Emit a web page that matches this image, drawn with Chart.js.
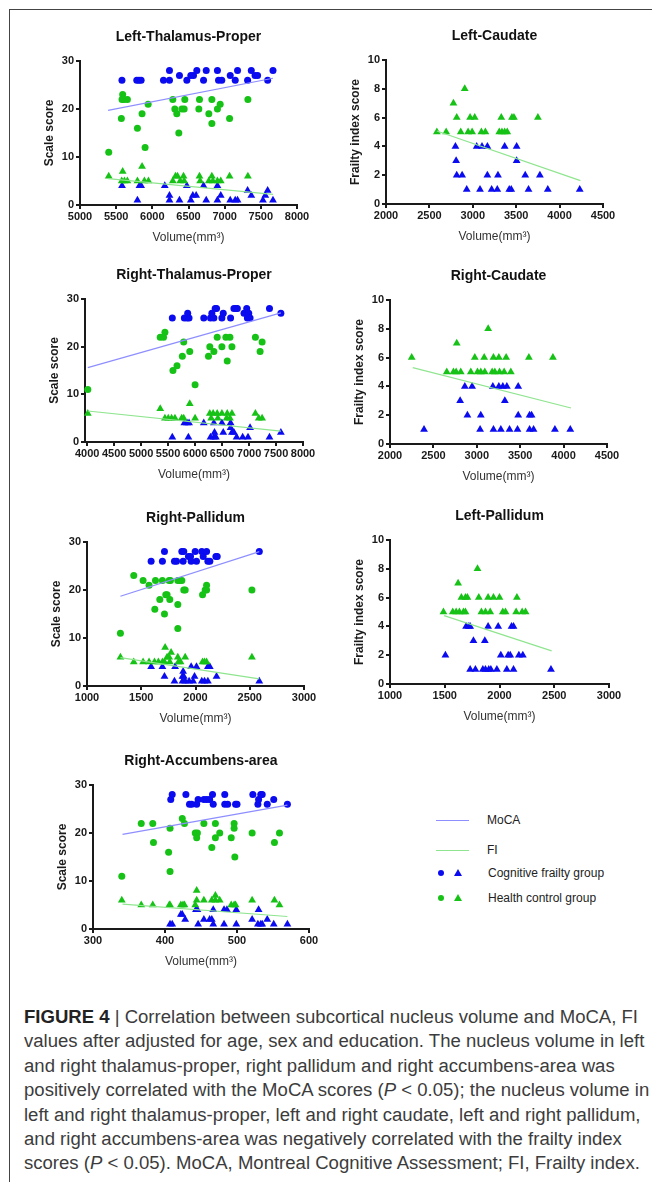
<!DOCTYPE html>
<html>
<head>
<meta charset="utf-8">
<script src="https://cdn.jsdelivr.net/npm/chart.js@4.4.0/dist/chart.umd.min.js"></script>
<style>
body { margin: 0; background: #fff; }
#fig { position: relative; width: 652px; height: 1182px; overflow: hidden; font-family: "Liberation Sans", Arial, sans-serif; }
.frame-top { position: absolute; left: 9px; top: 9px; width: 643px; height: 1px; background: #444; }
.frame-left { position: absolute; left: 9px; top: 9px; width: 1px; height: 1173px; background: #444; }
canvas { position: absolute; }
.lg-line { position: absolute; height: 1px; width: 33px; }
.lg-text { position: absolute; font-size: 12px; color: #222; line-height: 16px; white-space: nowrap; }
.dot { position: absolute; width: 6px; height: 6px; border-radius: 50%; }
.tri { position: absolute; width: 0; height: 0; border-left: 4px solid transparent; border-right: 4px solid transparent; border-bottom: 7px solid; }
#caption { position: absolute; left: 24px; top: 1005px; font-size: 18px; line-height: 24.4px; color: #3c3c3c; transform-origin: 0 0; white-space: nowrap; }
#caption b { color: #222; }
</style>
</head>
<body>
<div id="fig">
  <div class="frame-top"></div>
  <div class="frame-left"></div>

  <div class="lg-line" style="left:436px; top:820px; background:#8e8eff;"></div>
  <div class="lg-text" style="left:487px; top:812px;">MoCA</div>
  <div class="lg-line" style="left:436px; top:850px; background:#8fe58f;"></div>
  <div class="lg-text" style="left:487px; top:842px;">FI</div>
  <div class="dot" style="left:438px; top:870px; background:#0b0bf0;"></div>
  <div class="tri" style="left:454px; top:869px; border-bottom-color:#0b0bf0;"></div>
  <div class="lg-text" style="left:488px; top:865px;">Cognitive frailty group</div>
  <div class="dot" style="left:438px; top:895px; background:#17c217;"></div>
  <div class="tri" style="left:454px; top:894px; border-bottom-color:#17c217;"></div>
  <div class="lg-text" style="left:488px; top:890px;">Health control group</div>

  <div id="caption">
    <div id="cap1"><b>FIGURE 4</b> | Correlation between subcortical nucleus volume and MoCA, FI</div>
    <div>values after adjusted for age, sex and education. The nucleus volume in left</div>
    <div>and right thalamus-proper, right pallidum and right accumbens-area was</div>
    <div>positively correlated with the MoCA scores (<i>P</i> &lt; 0.05); the nucleus volume in</div>
    <div>left and right thalamus-proper, left and right caudate, left and right pallidum,</div>
    <div>and right accumbens-area was negatively correlated with the frailty index</div>
    <div>scores (<i>P</i> &lt; 0.05). MoCA, Montreal Cognitive Assessment; FI, Frailty index.</div>
  </div>
</div>

<script>
// Left-Thalamus-Proper
const ltp_cfMoca = [[5580,26],[5785,26],[5815,26],[5845,26],[6154,26],[6237,26],[6237,28],[6375,27],[6477,26],[6532,27],[6569,27],[6615,28],[6708,26],[6745,28],[6900,28],[6915,26],[6960,26],[7077,27],[7146,26],[7178,28],[7317,26],[7368,28],[7420,27],[7455,27],[7594,26],[7668,28]];
const ltp_hcMoca = [[5397,11],[5572,18],[5590,23],[5581,22],[5609,22],[5655,22],[5794,16],[5858,19],[5900,12],[5942,21],[6283,22],[6311,20],[6338,19],[6366,15],[6408,20],[6440,20],[6449,22],[6652,22],[6643,20],[6781,19],[6823,22],[6823,17],[6900,20],[6938,21],[7068,18],[7321,22]];
const ltp_hcFi = [[5397,6],[5590,7],[5577,5],[5614,5],[5655,5],[5794,5],[5858,8],[5890,5],[5946,5],[6283,5],[6320,6],[6348,6],[6385,5],[6431,6],[6440,5],[6652,6],[6661,5],[6781,5],[6823,6],[6837,5],[6900,5],[6946,5],[7068,6],[7321,6]];
const ltp_cfFi = [[5581,4],[5794,1],[5822,4],[5845,4],[6172,4],[6237,2],[6237,1],[6375,1],[6477,4],[6532,1],[6560,2],[6606,2],[6708,4],[6745,1],[6900,4],[6900,1],[6946,2],[7077,1],[7146,1],[7178,1],[7317,3],[7368,2],[7529,1],[7562,2],[7594,3],[7668,1]];
const ltp_mocaFit = [[5388,19.7],[7668,26.4]];
const ltp_fiFit = [[5388,5.5],[7668,2.2]];

// Left-Caudate
const lca_hcFi = [[2586,5],[2693,5],[2777,7],[2815,6],[2907,8],[2861,5],[2946,5],[2992,5],[2969,6],[3022,6],[3099,5],[3145,5],[3305,5],[3336,5],[3367,5],[3397,5],[3328,6],[3451,6],[3474,6],[3750,6]];
const lca_cfFi = [[2800,4],[2808,3],[2815,2],[2877,2],[2930,1],[3045,4],[3106,4],[3168,4],[3083,1],[3168,2],[3217,1],[3282,1],[3290,2],[3420,1],[3443,1],[3367,4],[3505,4],[3505,3],[3604,2],[3642,1],[3773,2],[3864,1],[4232,1]];
const lca_fiFit = [[2586,5.07],[4240,1.62]];

// Right-Thalamus-Proper
const rtp_cfMoca = [[5578,26],[5801,26],[5851,26],[5888,26],[5863,27],[6161,26],[6286,26],[6348,26],[6311,27],[6373,28],[6398,28],[6497,26],[6522,27],[6658,26],[6720,28],[6758,28],[6783,28],[6907,27],[6957,28],[6994,27],[6969,26],[7019,26],[7379,28],[7590,27]];
const rtp_hcMoca = [[4012,11],[5354,22],[5416,22],[5441,23],[5590,15],[5665,16],[5764,18],[5789,21],[5901,19],[6000,12],[6248,18],[6273,20],[6348,19],[6410,22],[6497,20],[6596,17],[6571,22],[6646,22],[6683,20],[7118,22],[7205,19],[7242,21]];
const rtp_hcFi = [[4012,6],[5354,7],[5441,5],[5503,5],[5565,5],[5627,5],[5752,5],[5789,5],[5901,8],[6000,5],[6273,6],[6335,6],[6410,6],[6298,5],[6422,5],[6497,6],[6584,5],[6646,5],[6596,6],[6683,6],[7118,6],[7180,5],[7242,5]];
const rtp_cfFi = [[5578,1],[5801,4],[5851,4],[5888,4],[5876,1],[6161,4],[6286,1],[6348,1],[6385,1],[6360,2],[6348,4],[6497,4],[6522,2],[6658,4],[6658,3],[6683,2],[6720,2],[6770,1],[6882,1],[6981,1],[7019,3],[7379,1],[7590,2]];
const rtp_mocaFit = [[4012,15.6],[7590,27.1]];
const rtp_fiFit = [[4012,6.5],[7590,2.3]];

// Right-Caudate
const rca_hcFi = [[2250,6],[2654,5],[2731,5],[2762,5],[2769,7],[2815,5],[2931,5],[3008,5],[3046,5],[3092,5],[2977,6],[3085,6],[3131,8],[3192,6],[3254,6],[3177,5],[3208,5],[3262,5],[3315,5],[3338,6],[3392,5],[3600,6],[3877,6]];
const rca_cfFi = [[2392,1],[2808,3],[2862,4],[2946,4],[2892,2],[3046,2],[3038,1],[3185,4],[3254,4],[3300,4],[3346,4],[3192,1],[3277,1],[3323,3],[3377,1],[3469,1],[3477,2],[3477,4],[3608,2],[3631,2],[3608,1],[3654,1],[3900,1],[4077,1]];
const rca_fiFit = [[2262,5.3],[4085,2.5]];

// Right-Pallidum
const rpa_cfMoca = [[1591,26],[1714,28],[1695,26],[1806,26],[1825,26],[1874,28],[1892,28],[1886,26],[1935,27],[1954,27],[1960,26],[1997,28],[2009,26],[2058,28],[2071,27],[2102,28],[2114,26],[2132,26],[2188,27],[2200,27],[2588,28]];
const rpa_hcMoca = [[1308,11],[1431,23],[1517,22],[1572,21],[1625,16],[1631,22],[1671,18],[1695,22],[1714,15],[1726,19],[1738,19],[1757,22],[1769,22],[1763,18],[1837,17],[1837,22],[1855,22],[1874,22],[1837,12],[1892,20],[1905,20],[2065,19],[2089,20],[2102,20],[2102,21],[2520,20]];
const rpa_hcFi = [[1308,6],[1431,5],[1517,5],[1572,5],[1622,5],[1658,5],[1695,5],[1714,5],[1720,8],[1738,6],[1757,6],[1775,7],[1763,5],[1837,6],[1843,5],[1862,5],[1905,6],[2065,5],[2083,5],[2102,5],[2520,6]];
const rpa_cfFi = [[1591,4],[1695,4],[1714,2],[1806,1],[1812,4],[1880,2],[1886,3],[1892,2],[1880,1],[1905,1],[1960,4],[1941,1],[1978,1],[1991,2],[2009,4],[2058,1],[2083,1],[2114,4],[2132,4],[2114,1],[2194,2],[2588,1]];
const rpa_mocaFit = [[1308,18.7],[2588,28]];
const rpa_fiFit = [[1308,5.9],[2588,1.5]];

// Left-Pallidum
const lpa_hcFi = [[1488,5],[1573,5],[1604,5],[1634,5],[1671,5],[1689,5],[1622,7],[1652,6],[1689,6],[1707,6],[1799,8],[1811,6],[1835,5],[1872,5],[1915,5],[1896,6],[1945,6],[2000,6],[2030,5],[2055,5],[2159,6],[2152,5],[2207,5],[2238,5]];
const lpa_cfFi = [[1506,2],[1695,4],[1720,4],[1732,4],[1762,3],[1866,3],[1732,1],[1780,1],[1848,1],[1872,1],[1902,1],[1921,1],[1976,1],[1896,4],[1988,4],[2012,2],[2079,2],[2098,2],[2067,1],[2128,1],[2110,4],[2128,4],[2177,2],[2213,2],[2470,1]];
const lpa_fiFit = [[1494,4.75],[2476,2.3]];

// Right-Accumbens-area
const rac_cfMoca = [[408,27],[410,28],[429,28],[434,26],[437,26],[444,26],[446,27],[454,27],[458,27],[462,27],[466,28],[467,26],[483,28],[483,26],[487,26],[498,26],[500,26],[522,28],[529,26],[530,27],[533,28],[535,28],[542,26],[551,27],[570,26]];
const rac_hcMoca = [[340,11],[367,22],[383,22],[384,18],[405,16],[407,21],[407,12],[424,23],[427,22],[442,20],[445,20],[444,19],[454,22],[465,17],[470,22],[470,19],[476,20],[492,19],[496,22],[496,21],[497,15],[521,20],[552,18],[559,20]];
const rac_hcFi = [[340,6],[367,5],[383,5],[406,5],[407,5],[422,5],[425,5],[427,5],[442,5],[444,8],[444,6],[454,6],[465,6],[470,7],[470,6],[476,6],[492,5],[496,5],[498,5],[521,6],[552,6],[559,5]];
const rac_cfFi = [[407,1],[410,1],[422,3],[424,3],[428,2],[443,4],[445,4],[446,1],[454,2],[462,2],[465,2],[467,1],[467,4],[482,4],[486,4],[482,1],[499,4],[499,1],[521,2],[530,4],[529,1],[533,1],[535,1],[542,2],[551,1],[570,1]];
const rac_mocaFit = [[341,19.7],[570,25.8]];
const rac_fiFit = [[341,5.2],[570,2.6]];

// tick labels
const ticksScale = [0, 10, 20, 30];
const ticksFrailty = [0, 2, 4, 6, 8, 10];
const ticksLtp = [5000, 5500, 6000, 6500, 7000, 7500, 8000];
const ticksRtp = [4000, 4500, 5000, 5500, 6000, 6500, 7000, 7500, 8000];
const ticksCaudate = [2000, 2500, 3000, 3500, 4000, 4500];
const ticksPallidum = [1000, 1500, 2000, 2500, 3000];
const ticksAccumbens = [300, 400, 500, 600];

const BLUE = '#0b0bf0', GREEN = '#17c217';
const BLUE_LINE = '#8e8eff', GREEN_LINE = '#8fe58f';
const AXIS = '#1a1a1a';
const FONT = '"Liberation Sans", Arial, sans-serif';

const panels = [
    {title: 'Left-Thalamus-Proper', yTitle: 'Scale score', left: 80, top: 61, w: 217, h: 144,
     xMin: 5000, xMax: 8000, xTicks: ticksLtp, yMax: 30, yTicks: ticksScale,
     cfMoca: ltp_cfMoca, hcMoca: ltp_hcMoca, cfFi: ltp_cfFi, hcFi: ltp_hcFi, mocaFit: ltp_mocaFit, fiFit: ltp_fiFit},
    {title: 'Left-Caudate', yTitle: 'Frailty index score', left: 386, top: 60, w: 217, h: 144,
     xMin: 2000, xMax: 4500, xTicks: ticksCaudate, yMax: 10, yTicks: ticksFrailty,
     cfFi: lca_cfFi, hcFi: lca_hcFi, fiFit: lca_fiFit},
    {title: 'Right-Thalamus-Proper', yTitle: 'Scale score', left: 85, top: 299, w: 218, h: 143,
     xMin: 3960, xMax: 8000, xTicks: ticksRtp, yMax: 30, yTicks: ticksScale,
     cfMoca: rtp_cfMoca, hcMoca: rtp_hcMoca, cfFi: rtp_cfFi, hcFi: rtp_hcFi, mocaFit: rtp_mocaFit, fiFit: rtp_fiFit},
    {title: 'Right-Caudate', yTitle: 'Frailty index score', left: 390, top: 300, w: 217, h: 144,
     xMin: 2000, xMax: 4500, xTicks: ticksCaudate, yMax: 10, yTicks: ticksFrailty,
     cfFi: rca_cfFi, hcFi: rca_hcFi, fiFit: rca_fiFit},
    {title: 'Right-Pallidum', yTitle: 'Scale score', left: 87, top: 542, w: 217, h: 144,
     xMin: 1000, xMax: 3000, xTicks: ticksPallidum, yMax: 30, yTicks: ticksScale,
     cfMoca: rpa_cfMoca, hcMoca: rpa_hcMoca, cfFi: rpa_cfFi, hcFi: rpa_hcFi, mocaFit: rpa_mocaFit, fiFit: rpa_fiFit},
    {title: 'Left-Pallidum', yTitle: 'Frailty index score', left: 390, top: 540, w: 219, h: 144,
     xMin: 1000, xMax: 3000, xTicks: ticksPallidum, yMax: 10, yTicks: ticksFrailty,
     cfFi: lpa_cfFi, hcFi: lpa_hcFi, fiFit: lpa_fiFit},
    {title: 'Right-Accumbens-area', yTitle: 'Scale score', left: 93, top: 785, w: 216, h: 144,
     xMin: 300, xMax: 600, xTicks: ticksAccumbens, yMax: 30, yTicks: ticksScale,
     cfMoca: rac_cfMoca, hcMoca: rac_hcMoca, cfFi: rac_cfFi, hcFi: rac_hcFi, mocaFit: rac_mocaFit, fiFit: rac_fiFit},
];

document.addEventListener('DOMContentLoaded', () => {
    for (let p of panels) make_panel(p);
    fit_caption();
});

function pts(arr) {
    return arr.map(d => ({x: d[0], y: d[1]}));
}

function markers(arr, color, style) {
    return {
        data: pts(arr), pointStyle: style, backgroundColor: color, borderColor: color,
        borderWidth: 0, pointRadius: style == 'triangle' ? 4.5 : 3.5, showLine: false, clip: false, order: 1
    };
}

function fitLine(arr, color) {
    return {
        data: pts(arr), showLine: true, borderColor: color, borderWidth: 1.2,
        pointRadius: 0, fill: false, clip: false, order: 0
    };
}

function make_panel(p) {
    const canvas = document.createElement('canvas');
    const w = 45 + p.w + 20, h = 35 + p.h + 52;
    canvas.width = w; canvas.height = h;
    canvas.style.width = w + 'px'; canvas.style.height = h + 'px';
    canvas.style.left = (p.left - 45) + 'px';
    canvas.style.top = (p.top - 35) + 'px';
    document.getElementById('fig').appendChild(canvas);

    datasets = [];
    if (p.hcMoca) datasets.push(markers(p.hcMoca, GREEN, 'circle'));
    if (p.cfMoca) datasets.push(markers(p.cfMoca, BLUE, 'circle'));
    datasets.push(markers(p.hcFi, GREEN, 'triangle'));
    datasets.push(markers(p.cfFi, BLUE, 'triangle'));
    if (p.mocaFit) datasets.push(fitLine(p.mocaFit, BLUE_LINE));
    datasets.push(fitLine(p.fiFit, GREEN_LINE));

    const axisCommon = {
        border: {display: true, color: AXIS, width: 2},
        grid: {drawOnChartArea: false, drawTicks: true, tickLength: 4, color: AXIS, lineWidth: 2},
    };
    const tickFont = {size: 11, weight: 'bold', family: FONT};

    config = {
        type: 'scatter',
        data: {datasets: datasets},
        options: {
            responsive: false, animation: false, devicePixelRatio: 1,
            layout: {padding: {left: 0, right: 20, top: 0, bottom: 0}},
            plugins: {
                legend: {display: false},
                tooltip: {enabled: false},
                title: {
                    display: true, text: p.title, fullSize: false, color: '#111',
                    font: {size: 14, weight: 'bold', family: FONT, lineHeight: 1.2},
                    padding: {top: 3, bottom: 15.2}
                }
            },
            scales: {
                x: {
                    ...axisCommon, type: 'linear', min: p.xMin, max: p.xMax,
                    afterBuildTicks: s => { s.ticks = p.xTicks.map(v => ({value: v})); },
                    afterFit: s => { s.height = 52; },
                    ticks: {font: tickFont, color: AXIS, padding: 1, maxRotation: 0, autoSkip: false, callback: v => String(v)},
                    title: {display: true, text: 'Volume(mm³)', color: '#333', font: {size: 12, family: FONT, lineHeight: 1.2}, padding: {top: 0, bottom: 12}}
                },
                y: {
                    ...axisCommon, type: 'linear', min: 0, max: p.yMax,
                    afterBuildTicks: s => { s.ticks = p.yTicks.map(v => ({value: v})); },
                    afterFit: s => { s.width = 45; },
                    ticks: {font: tickFont, color: AXIS, padding: 2, callback: v => String(v)},
                    title: {display: true, text: p.yTitle, color: AXIS, font: {size: 12, weight: 'bold', family: FONT, lineHeight: 1.2}, padding: {top: 7, bottom: 0}}
                }
            }
        }
    };
    new Chart(canvas, config);
}

function fit_caption() {
    const cap = document.getElementById('caption');
    const first = document.getElementById('cap1');
    const r = document.createRange();
    r.selectNodeContents(first);
    const width = r.getBoundingClientRect().width;
    cap.style.transform = 'scaleX(' + (614 / width) + ')';
}
</script>
</body>
</html>
